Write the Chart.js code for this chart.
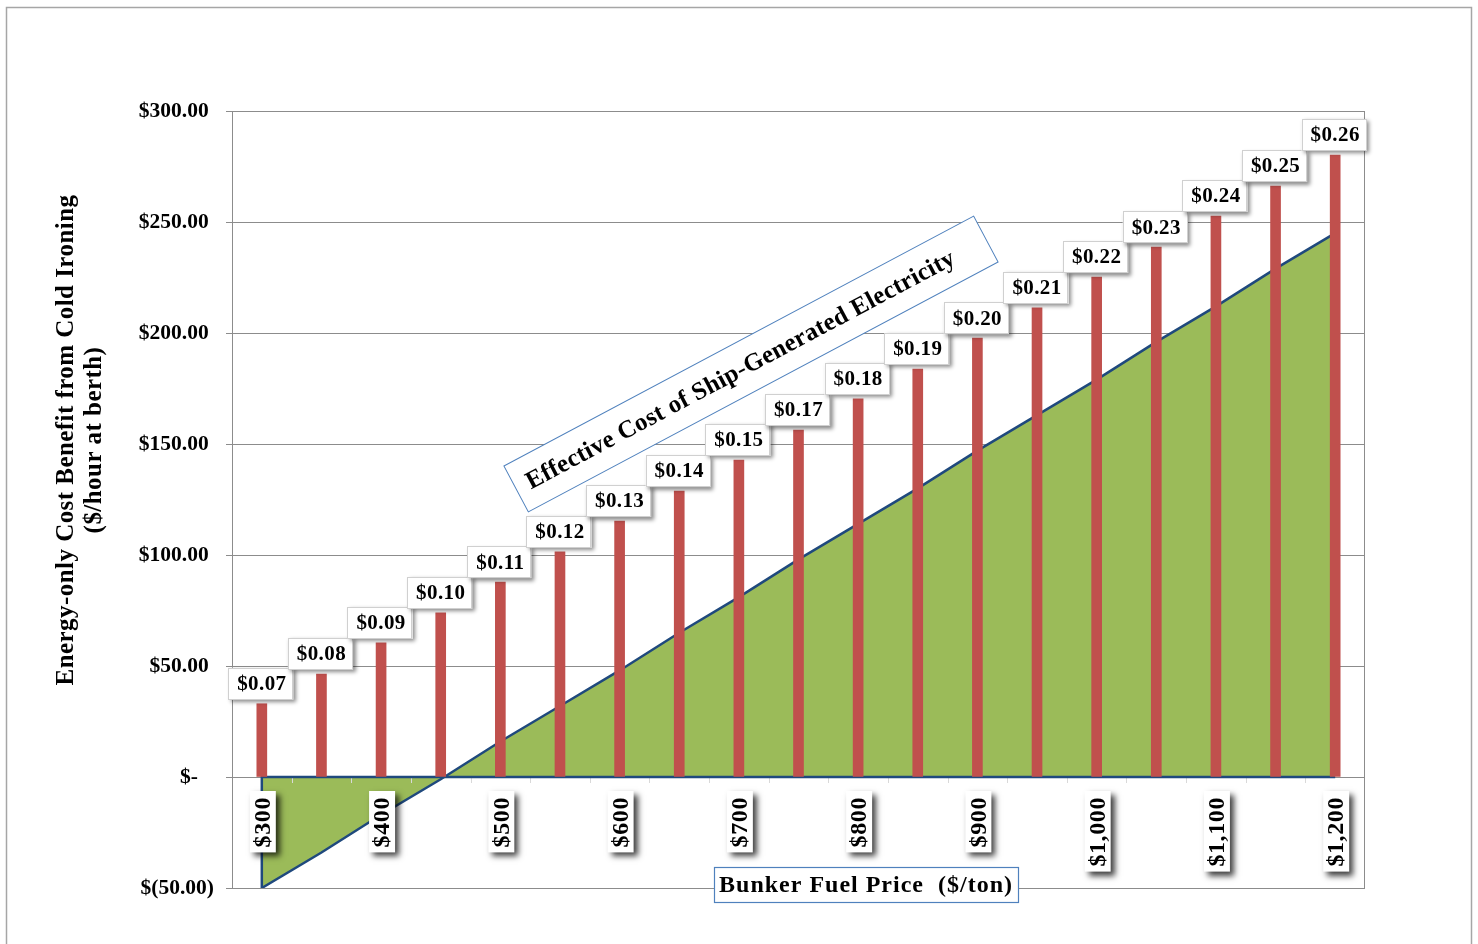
<!DOCTYPE html>
<html>
<head>
<meta charset="utf-8">
<script src="https://cdn.jsdelivr.net/npm/chart.js@4.4.1/dist/chart.umd.min.js"></script>
<style>
html,body{margin:0;padding:0;background:#ffffff;overflow:hidden;}
#wrap{width:1478px;height:944px;position:relative;}
canvas{display:block;}
</style>
</head>
<body>
<div id="wrap"><canvas id="chart" width="1478" height="944"></canvas></div>
<script>
// ---- Data ----
const categories = ['$300','$350','$400','$450','$500','$550','$600','$650','$700','$750','$800','$850','$900','$950','$1,000','$1,050','$1,100','$1,150','$1,200'];
const shownCategoryLabels = ['$300','$400','$500','$600','$700','$800','$900','$1,000','$1,100','$1,200'];
const coldIroningBenefit = [33, 46.4, 60.4, 73.9, 87.8, 101.4, 115.3, 128.8, 142.8, 156.3, 170.3, 183.8, 197.7, 211.3, 225.2, 238.7, 252.7, 266.2, 280.2];
const electricityCostLabels = ['$0.07','$0.08','$0.09','$0.10','$0.11','$0.12','$0.13','$0.14','$0.15','$0.17','$0.18','$0.19','$0.20','$0.21','$0.22','$0.23','$0.24','$0.25','$0.26'];
const fuelCostArea = [-50, -34, -17, -1, 16, 32, 48, 65, 81, 98, 114, 130, 147, 163, 179, 196, 212, 229, 245];
const yTickValues = [-50, 0, 50, 100, 150, 200, 250, 300];
const yTickLabels = ['$(50.00)', '$-   ', '$50.00 ', '$100.00 ', '$150.00 ', '$200.00 ', '$250.00 ', '$300.00 '];
const yTitleLines = ['Energy-only Cost Benefit from Cold Ironing', '($/hour at berth)'];
const xTitle = 'Bunker Fuel Price  ($/ton)';
const annotationText = 'Effective Cost of Ship-Generated Electricity';

const FONT = '"Liberation Serif", "DejaVu Serif", serif';
const BAR_RED = '#C0504D';
const AREA_GREEN = '#9BBB59';
const LINE_BLUE = '#1F497D';
const BOX_BLUE = '#4F81BD';
const GRID = '#8C8C8C';

function setSpacing(ctx, px) {
  if ('letterSpacing' in ctx) ctx.letterSpacing = px + 'px';
}

function shadowBox(ctx, x, y, w, h, opts) {
  ctx.save();
  ctx.shadowColor = opts.shadowColor;
  ctx.shadowBlur = opts.blur;
  ctx.shadowOffsetX = opts.off;
  ctx.shadowOffsetY = opts.off;
  ctx.fillStyle = '#ffffff';
  ctx.fillRect(x, y, w, h);
  ctx.restore();
  if (opts.border) {
    ctx.save();
    ctx.strokeStyle = opts.border;
    ctx.lineWidth = 1;
    ctx.strokeRect(Math.round(x) + 0.5, Math.round(y) + 0.5, Math.round(w) - 1, Math.round(h) - 1);
    ctx.restore();
  }
}

const framePlugin = {
  id: 'frame',
  beforeDraw(chart) {
    const ctx = chart.ctx;
    ctx.save();
    ctx.fillStyle = '#ffffff';
    ctx.fillRect(0, 0, chart.width, chart.height);
    ctx.strokeStyle = '#A6A6A6';
    ctx.lineWidth = 1.5;
    ctx.beginPath();
    ctx.moveTo(6.5, chart.height + 5);
    ctx.lineTo(6.5, 7.5);
    ctx.lineTo(1471.5, 7.5);
    ctx.lineTo(1471.5, chart.height + 5);
    ctx.stroke();
    ctx.restore();
  },
  beforeDatasetsDraw(chart) {
    const {ctx, chartArea: a} = chart;
    ctx.save();
    ctx.strokeStyle = GRID;
    ctx.lineWidth = 1;
    ctx.strokeRect(Math.round(a.left) + 0.5, Math.round(a.top) + 0.5, Math.round(a.right - a.left) - 1, Math.round(a.bottom - a.top));
    ctx.restore();
  }
};

const areaOutlinePlugin = {
  id: 'areaOutline',
  afterDatasetDraw(chart, args) {
    if (args.index !== 1) return;
    const ctx = chart.ctx;
    const x = chart.scales.x, y = chart.scales.y;
    const x0 = x.getPixelForValue(0), x1 = x.getPixelForValue(categories.length - 1);
    const yz = y.getPixelForValue(0), yb = y.getPixelForValue(fuelCostArea[0]);
    ctx.save();
    ctx.strokeStyle = '#D9D9D9';
    ctx.lineWidth = 1;
    for (let i = 1; i < categories.length; i++) {
      const px = Math.round((x.getPixelForValue(i - 1) + x.getPixelForValue(i)) / 2) + 0.5;
      ctx.beginPath();
      ctx.moveTo(px, yz + 1);
      ctx.lineTo(px, yz + 6);
      ctx.stroke();
    }
    ctx.strokeStyle = LINE_BLUE;
    ctx.lineWidth = 2.5;
    ctx.lineJoin = 'miter';
    ctx.beginPath();
    ctx.moveTo(x1, yz);
    ctx.lineTo(x0, yz);
    ctx.lineTo(x0, yb);
    ctx.stroke();
    ctx.restore();
  }
};

const labelsPlugin = {
  id: 'labelsPlugin',
  afterDatasetsDraw(chart) {
    const ctx = chart.ctx;
    const x = chart.scales.x, y = chart.scales.y;
    const a = chart.chartArea;

    // Data labels above bars
    ctx.save();
    ctx.font = 'bold 21px ' + FONT;
    setSpacing(ctx, 0.4);
    ctx.textAlign = 'center';
    ctx.textBaseline = 'middle';
    for (let i = 0; i < categories.length; i++) {
      const cx = x.getPixelForValue(i);
      const top = y.getPixelForValue(coldIroningBenefit[i]);
      const tw = ctx.measureText(electricityCostLabels[i]).width;
      const w = tw + 16, h = 32;
      const bx = cx - w / 2 - 1, by = top - 4 - h;
      shadowBox(ctx, bx, by, w, h, {shadowColor: 'rgba(0,0,0,0.45)', blur: 4, off: 2.5, border: '#D0D0D0'});
      ctx.fillStyle = '#000000';
      ctx.fillText(electricityCostLabels[i], cx, by + h / 2 + 1);
    }
    ctx.restore();

    // X category labels (rotated) in boxes below the zero line
    ctx.save();
    ctx.font = 'bold 24px ' + FONT;
    setSpacing(ctx, 0.6);
    const yz = y.getPixelForValue(0);
    shownCategoryLabels.forEach((lab) => {
      const i = categories.indexOf(lab);
      const cx = x.getPixelForValue(i);
      const tw = ctx.measureText(lab).width;
      const w = 26, h = tw + 11;
      const bx = cx - w / 2 + 1, by = yz + 14;
      shadowBox(ctx, bx, by, w, h, {shadowColor: 'rgba(0,0,0,0.75)', blur: 6, off: 4, border: null});
      ctx.save();
      ctx.translate(cx + 1, by + 6);
      ctx.rotate(-Math.PI / 2);
      ctx.fillStyle = '#000000';
      ctx.textAlign = 'right';
      ctx.textBaseline = 'middle';
      ctx.fillText(lab, 0, 1);
      ctx.restore();
    });
    ctx.restore();

    // Y axis title (two lines, rotated)
    ctx.save();
    ctx.font = 'bold 25px ' + FONT;
    setSpacing(ctx, 0.45);
    ctx.fillStyle = '#000000';
    ctx.textAlign = 'center';
    ctx.textBaseline = 'middle';
    ctx.translate(67, 440);
    ctx.rotate(-Math.PI / 2);
    ctx.fillText(yTitleLines[0], 0, 0);
    ctx.fillText(yTitleLines[1], 0, 28);
    ctx.restore();

    // X axis title in blue box
    ctx.save();
    ctx.font = 'bold 24px ' + FONT;
    setSpacing(ctx, 1);
    const xcx = 866;
    const xbw = 304, xbh = 35;
    const xbx = xcx - xbw / 2, xby = a.bottom - 21;
    ctx.fillStyle = '#ffffff';
    ctx.fillRect(xbx, xby, xbw, xbh);
    ctx.strokeStyle = BOX_BLUE;
    ctx.lineWidth = 1.2;
    ctx.strokeRect(Math.round(xbx) + 0.5, Math.round(xby) + 0.5, Math.round(xbw), Math.round(xbh));
    ctx.fillStyle = '#000000';
    ctx.textAlign = 'center';
    ctx.textBaseline = 'middle';
    ctx.fillText(xTitle, xcx, xby + xbh / 2 + 1);
    ctx.restore();

    // Rotated annotation box
    ctx.save();
    ctx.translate(751, 364);
    ctx.rotate(-28 * Math.PI / 180);
    ctx.font = 'bold 25px ' + FONT;
    setSpacing(ctx, 0.3);
    const aw = 532, ah = 52;
    ctx.fillStyle = '#ffffff';
    ctx.fillRect(-aw / 2, -ah / 2, aw, ah);
    ctx.strokeStyle = BOX_BLUE;
    ctx.lineWidth = 1;
    ctx.strokeRect(-aw / 2, -ah / 2, aw, ah);
    ctx.fillStyle = '#000000';
    ctx.textAlign = 'center';
    ctx.textBaseline = 'middle';
    ctx.fillText(annotationText, -12, 1);
    ctx.restore();
  }
};

const chart = new Chart(document.getElementById('chart'), {
  type: 'bar',
  data: {
    labels: categories,
    datasets: [
      {
        type: 'bar',
        label: 'Energy-only Cost Benefit',
        data: coldIroningBenefit,
        backgroundColor: BAR_RED,
        borderWidth: 0,
        barThickness: 10,
        order: 0
      },
      {
        type: 'line',
        label: 'Effective Cost of Ship-Generated Electricity',
        data: fuelCostArea,
        borderColor: LINE_BLUE,
        borderWidth: 2.5,
        backgroundColor: AREA_GREEN,
        fill: 'origin',
        pointRadius: 0,
        tension: 0,
        order: 1
      }
    ]
  },
  options: {
    responsive: false,
    devicePixelRatio: 1,
    animation: false,
    layout: { padding: { top: 111, right: 113, bottom: 56, left: 40 } },
    plugins: {
      legend: { display: false },
      tooltip: { enabled: false },
      title: { display: false }
    },
    scales: {
      x: {
        display: false,
        offset: true
      },
      y: {
        min: -50,
        max: 300,
        afterFit(scale) { scale.width = 192; },
        afterBuildTicks(scale) { scale.ticks = yTickValues.map(v => ({ value: v })); },
        border: { display: true, color: GRID, width: 1 },
        grid: { color: GRID, lineWidth: 1, tickLength: 6, drawTicks: true },
        ticks: {
          padding: 12,
          color: '#000000',
          font: { family: FONT, size: 21.5, weight: 'bold' },
          callback(value) {
            const idx = yTickValues.indexOf(value);
            return idx >= 0 ? yTickLabels[idx] : '';
          }
        }
      }
    }
  },
  plugins: [framePlugin, areaOutlinePlugin, labelsPlugin]
});
</script>
</body>
</html>
